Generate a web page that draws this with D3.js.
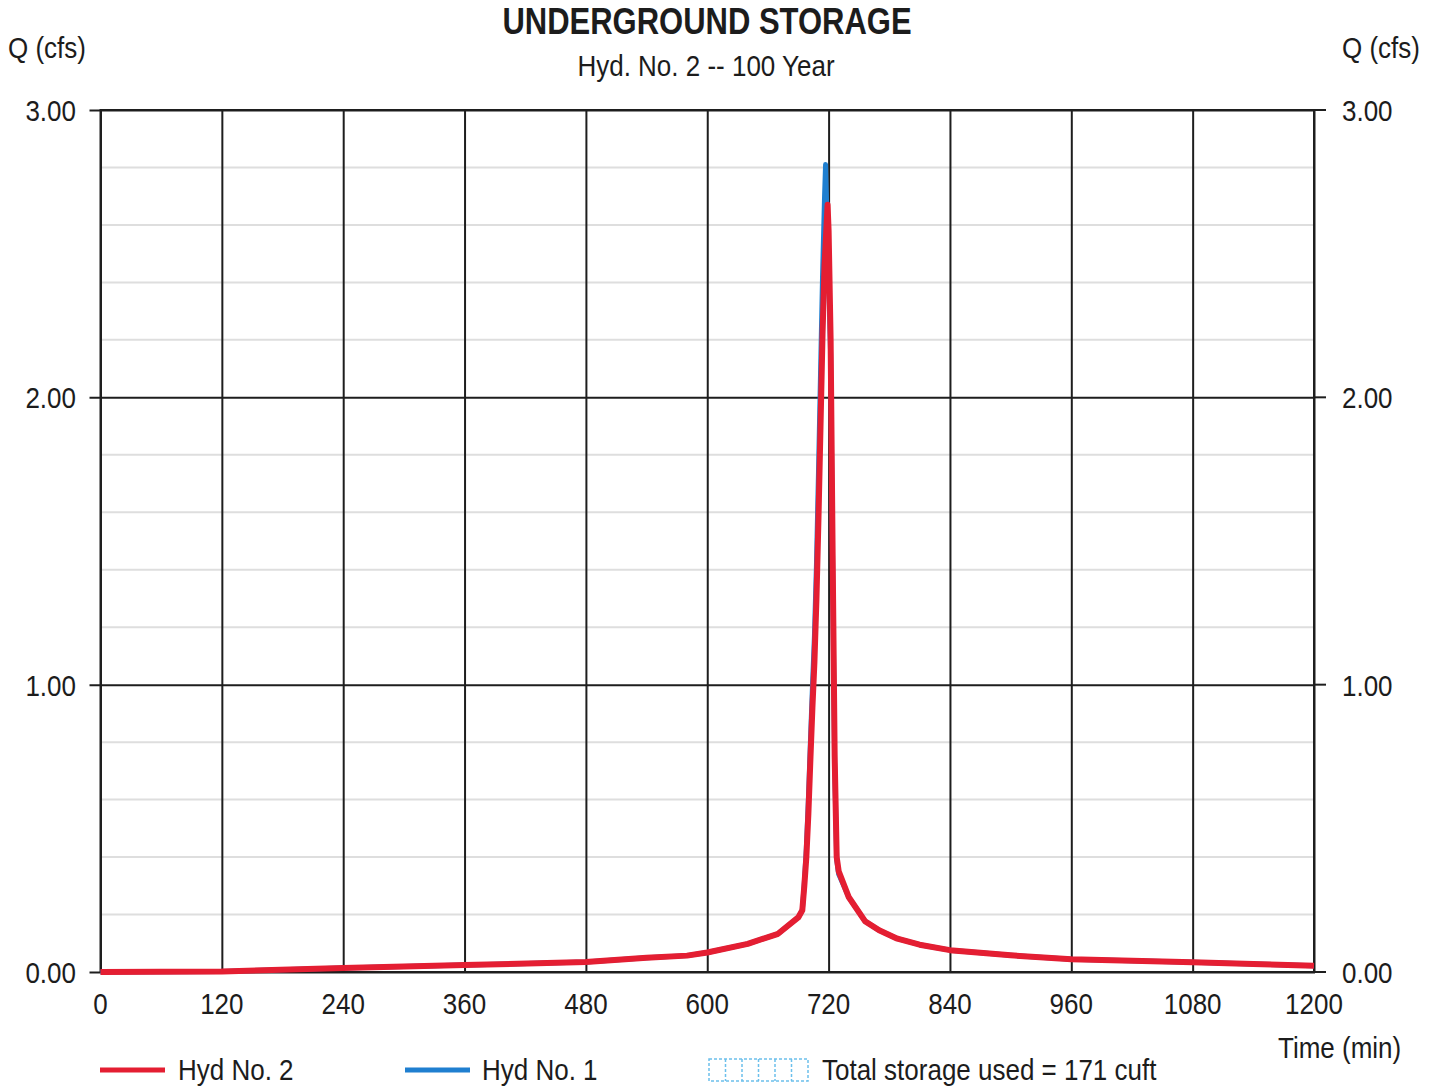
<!DOCTYPE html>
<html>
<head>
<meta charset="utf-8">
<script src="https://cdn.jsdelivr.net/npm/d3@7/dist/d3.min.js"></script>
<style>
  html, body { margin: 0; padding: 0; background: #fff; }
  svg { display: block; }
  text { font-family: "Liberation Sans", Arial, Helvetica, sans-serif; fill: #1c1c1c; }
</style>
</head>
<body>
<svg id="chart" width="1441" height="1087"></svg>
<script>
// Time axis (minutes) and flow axis (cfs)
const timeTicks = [0, 120, 240, 360, 480, 600, 720, 840, 960, 1080, 1200];
const flowMajor = [0, 1, 2, 3];
const flowMinor = [0.2, 0.4, 0.6, 0.8, 1.2, 1.4, 1.6, 1.8, 2.2, 2.4, 2.6, 2.8];

// Hyd No. 1 – inflow hydrograph
const hyd1Time = [0, 120, 240, 360, 480, 540, 580, 600, 640, 670, 690, 694, 696, 698, 700, 702, 704, 706, 708, 710, 712, 714, 716, 717, 719, 722, 724, 726, 728, 730, 740, 756, 770, 788, 810, 840, 900, 960, 1020, 1080, 1140, 1200];
const hyd1Q    = [0, 0.002, 0.014, 0.024, 0.035, 0.05, 0.057, 0.068, 0.098, 0.133, 0.19, 0.215, 0.31, 0.43, 0.60, 0.80, 0.99, 1.17, 1.42, 1.74, 2.08, 2.42, 2.70, 2.81, 2.55, 2.15, 1.40, 0.72, 0.39, 0.34, 0.26, 0.177, 0.145, 0.116, 0.095, 0.076, 0.058, 0.044, 0.039, 0.034, 0.028, 0.022];

// Hyd No. 2 – outflow hydrograph
const hyd2Time = [0, 120, 240, 360, 480, 540, 580, 600, 640, 670, 690, 694, 696, 698, 700, 702, 704, 706, 708, 710, 712, 714, 716, 719, 720, 722, 724, 726, 728, 730, 740, 756, 770, 788, 810, 840, 900, 960, 1020, 1080, 1140, 1200];
const hyd2Q    = [0, 0.002, 0.014, 0.024, 0.035, 0.05, 0.057, 0.068, 0.098, 0.133, 0.19, 0.215, 0.30, 0.40, 0.55, 0.74, 0.92, 1.08, 1.30, 1.58, 1.90, 2.22, 2.46, 2.67, 2.58, 2.20, 1.45, 0.75, 0.40, 0.35, 0.26, 0.177, 0.145, 0.116, 0.095, 0.076, 0.058, 0.044, 0.039, 0.034, 0.028, 0.022];

const storageUsed = 171;

const svg = d3.select("#chart");
const plotLeft = 100.5, plotRight = 1314, plotTop = 110, plotBottom = 972;
const x = d3.scaleLinear().domain([0, 1200]).range([plotLeft, plotRight]);
const y = d3.scaleLinear().domain([0, 3]).range([plotBottom, plotTop]);

const STRETCH = 1.17;
function label(g, px, py, str, size, anchor, weight) {
  g.append("text")
    .attr("transform", `translate(${px},${py}) scale(1,${STRETCH})`)
    .attr("text-anchor", anchor || "start")
    .style("font-size", size + "px")
    .style("font-weight", weight || "normal")
    .text(str);
}

// minor horizontal grid
svg.append("g").selectAll("line").data(flowMinor).join("line")
  .attr("x1", plotLeft).attr("x2", plotRight)
  .attr("y1", d => y(d)).attr("y2", d => y(d))
  .attr("stroke", "#dedede").attr("stroke-width", 2);

// vertical grid from the time axis
const xGrid = d3.axisBottom(x).tickValues(timeTicks).tickSize(-(plotBottom - plotTop)).tickFormat("");
svg.append("g").attr("transform", `translate(0,${plotBottom})`).call(xGrid)
  .call(g => g.select(".domain").remove())
  .call(g => g.selectAll("line").attr("stroke", "#1e1e1e").attr("stroke-width", 2));

// major horizontal grid with outward ticks on both sides
const yGrid = d3.axisLeft(y).tickValues(flowMajor).tickSize(-(plotRight - plotLeft) - 12).tickFormat("");
svg.append("g").attr("transform", `translate(${plotLeft - 11},0)`).call(yGrid)
  .call(g => g.select(".domain").remove())
  .call(g => g.selectAll("line").attr("stroke", "#1e1e1e").attr("stroke-width", 2));
svg.append("g").selectAll("line").data(flowMajor).join("line")
  .attr("x1", plotRight).attr("x2", plotRight + 12)
  .attr("y1", d => y(d)).attr("y2", d => y(d))
  .attr("stroke", "#1e1e1e").attr("stroke-width", 2);

// frame
svg.append("rect").attr("x", plotLeft).attr("y", plotTop)
  .attr("width", plotRight - plotLeft).attr("height", plotBottom - plotTop)
  .attr("fill", "none").attr("stroke", "#1e1e1e").attr("stroke-width", 2);

// tick labels
const labels = svg.append("g");
flowMajor.forEach(v => {
  label(labels, 76, y(v) + 11, d3.format(".2f")(v), 26, "end");
  label(labels, 1342, y(v) + 11, d3.format(".2f")(v), 26, "start");
});
timeTicks.forEach(t => label(labels, x(t), 1014, String(t), 26, "middle"));

// titles
label(labels, 707, 34, "UNDERGROUND STORAGE", 31, "middle", "bold");
label(labels, 706, 76, "Hyd. No. 2 -- 100 Year", 26, "middle");
label(labels, 8, 58, "Q (cfs)", 26, "start");
label(labels, 1342, 58, "Q (cfs)", 26, "start");
label(labels, 1278, 1058, "Time (min)", 26, "start");

// hydrographs
const line = d3.line().x(d => x(d[0])).y(d => y(d[1]));
const hyd1 = hyd1Time.map((t, i) => [t, hyd1Q[i]]);
const hyd2 = hyd2Time.map((t, i) => [t, hyd2Q[i]]);
svg.append("path").datum(hyd1).attr("d", line)
  .attr("fill", "none").attr("stroke", "#1f7fd0").attr("stroke-width", 5)
  .attr("stroke-linejoin", "round");
svg.append("path").datum(hyd2).attr("d", line)
  .attr("fill", "none").attr("stroke", "#e41e32").attr("stroke-width", 6)
  .attr("stroke-linejoin", "round");

// legend
const lg = svg.append("g");
lg.append("line").attr("x1", 100).attr("x2", 165).attr("y1", 1070).attr("y2", 1070)
  .attr("stroke", "#e41e32").attr("stroke-width", 5);
label(lg, 178, 1080, "Hyd No. 2", 26, "start");
lg.append("line").attr("x1", 405).attr("x2", 470).attr("y1", 1070).attr("y2", 1070)
  .attr("stroke", "#1f7fd0").attr("stroke-width", 5);
label(lg, 482, 1080, "Hyd No. 1", 26, "start");
const boxX = 709, boxW = 99, boxY = 1059, boxH = 22;
lg.append("rect").attr("x", boxX).attr("y", boxY).attr("width", boxW).attr("height", boxH)
  .attr("fill", "none").attr("stroke", "#6cc0ec").attr("stroke-width", 1.5)
  .attr("stroke-dasharray", "3,2");
d3.range(1, 6).forEach(i => {
  lg.append("line").attr("x1", boxX + i * boxW / 6).attr("x2", boxX + i * boxW / 6)
    .attr("y1", boxY).attr("y2", boxY + boxH)
    .attr("stroke", "#6cc0ec").attr("stroke-width", 1.5).attr("stroke-dasharray", "3,2");
});
label(lg, 822, 1080, `Total storage used = ${storageUsed} cuft`, 26, "start");
</script>
</body>
</html>
